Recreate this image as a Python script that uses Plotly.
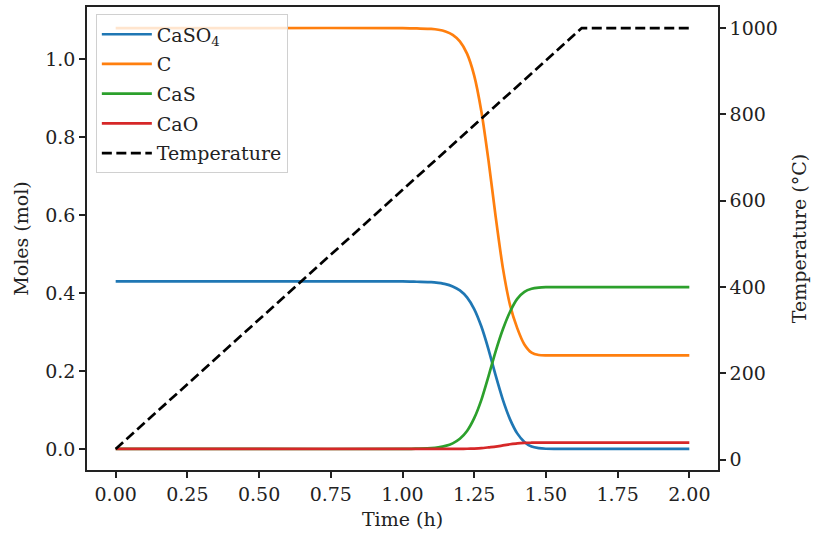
import plotly.graph_objects as go

# Data
time_h = [0.0, 0.5, 1.0, 1.05, 1.1, 1.125, 1.15, 1.175, 1.2, 1.225, 1.25, 1.275,
          1.3, 1.325, 1.35, 1.375, 1.4, 1.425, 1.45, 1.475, 1.5, 1.55, 1.75, 2.0]
caso4 = [0.430, 0.430, 0.430, 0.429, 0.428, 0.426, 0.423, 0.417, 0.407, 0.389, 0.359, 0.314,
         0.255, 0.188, 0.126, 0.076, 0.040, 0.018, 0.006, 0.002, 0.0005, 0.0, 0.0, 0.0]
carbon = [1.080, 1.080, 1.080, 1.079, 1.0778, 1.0756, 1.0712, 1.0626, 1.0458, 1.0143, 0.958, 0.866,
          0.739, 0.595, 0.464, 0.369, 0.310, 0.268, 0.247, 0.241, 0.240, 0.240, 0.240, 0.240]
cas = [0.0, 0.0, 0.0, 0.001, 0.0023, 0.0042, 0.0078, 0.0144, 0.026, 0.046, 0.079, 0.126,
       0.187, 0.251, 0.307, 0.352, 0.385, 0.403, 0.411, 0.414, 0.415, 0.415, 0.415, 0.415]
cao = [0.0, 0.0, 0.0, 0.0, 0.0, 0.0, 0.0, 0.0, 0.0002, 0.0005, 0.001, 0.002,
       0.004, 0.006, 0.009, 0.012, 0.0145, 0.0158, 0.016, 0.016, 0.016, 0.016, 0.016, 0.016]

temp_time_h = [0.0, 1.625, 2.0]
temperature_c = [25, 1000, 1000]

x_ticks = [0.0, 0.25, 0.5, 0.75, 1.0, 1.25, 1.5, 1.75, 2.0]
y_ticks = [0.0, 0.2, 0.4, 0.6, 0.8, 1.0]
t_ticks = [0, 200, 400, 600, 800, 1000]

FONT = "DejaVu Serif"
FS = 19
fig = go.Figure()

series = [
    ("CaSO<sub>4</sub>", caso4, "#1f77b4"),
    ("C", carbon, "#ff7f0e"),
    ("CaS", cas, "#2ca02c"),
    ("CaO", cao, "#d62728"),
]
for i, (name, vals, col) in enumerate(series):
    fig.add_trace(go.Scatter(x=time_h, y=vals, name=name, mode="lines",
                             line=dict(color=col, width=2.7, shape="spline", smoothing=0.6),
                             legendgroup=f"g{i}"))

fig.add_trace(go.Scatter(x=temp_time_h, y=temperature_c, name="Temperature", mode="lines",
                         line=dict(color="black", width=2.7, dash="10px,4.5px"),
                         yaxis="y2", legendgroup="g4"))

axis_common = dict(showline=True, linecolor="#222", linewidth=1.6, ticks="outside",
                   ticklen=6, tickwidth=1.5, tickcolor="#222", showgrid=False, zeroline=False,
                   tickfont=dict(family=FONT, size=FS, color="#222"))

fig.update_layout(
    width=814, height=538,
    margin=dict(l=87, r=96, t=5, b=68),
    plot_bgcolor="white", paper_bgcolor="white",
    font=dict(family=FONT, size=FS, color="#222"),
    xaxis=dict(range=[-0.1, 2.1], tickvals=x_ticks, tickformat=".2f", mirror=True,
               title=dict(text="Time (h)", font=dict(family=FONT, size=FS), standoff=9),
               **axis_common),
    yaxis=dict(range=[-0.054, 1.134], tickvals=y_ticks, tickformat=".1f",
               title=dict(text="Moles (mol)", font=dict(family=FONT, size=FS), standoff=12),
               **axis_common),
    yaxis2=dict(range=[-23.75, 1048.75], tickvals=t_ticks, overlaying="y", side="right",
                title=dict(text="Temperature (°C)", font=dict(family=FONT, size=FS), standoff=16),
                **axis_common),
    legend=dict(x=0.014, y=0.984, xanchor="left", yanchor="top",
                bgcolor="rgba(255,255,255,0.8)", bordercolor="#d0d0d0", borderwidth=1,
                font=dict(family=FONT, size=FS, color="#222"),
                itemwidth=50, tracegroupgap=2, traceorder="grouped"),
    showlegend=True,
)

fig.write_html("out.html")
